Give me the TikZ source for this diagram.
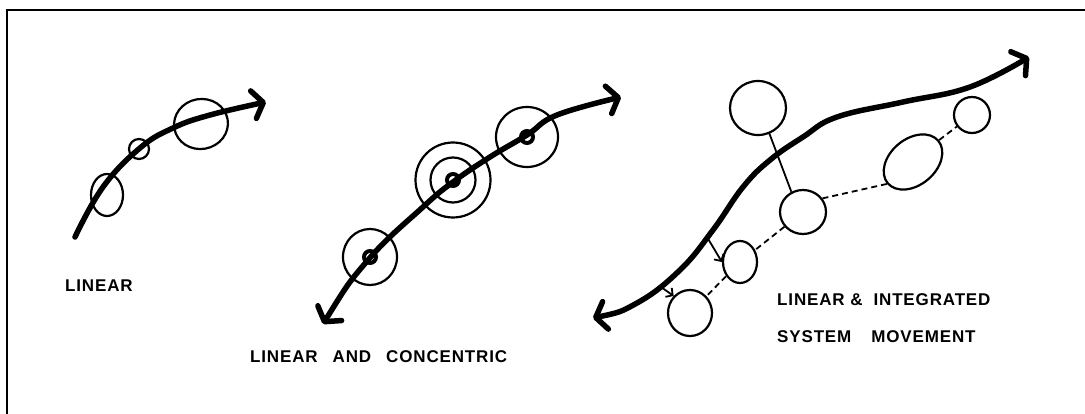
\documentclass[tikz,border=0pt]{standalone}
\usepackage{fontspec}
\setmainfont{Liberation Sans}
\newfontfamily\capfont[LetterSpace=5]{Liberation Sans Bold}
\usetikzlibrary{arrows.meta, shapes.geometric}

\begin{document}
\begin{tikzpicture}[x=1pt, y=-1pt, >={Straight Barb[length=10pt, width=28pt, round]},
    spine/.style={line width=5.5pt, line cap=round, line join=round},
    blob/.style={draw, ellipse, line width=2.2pt, inner sep=0pt},
    core/.style={draw, circle, line width=4pt, minimum size=12pt, inner sep=0pt},
    tie/.style={line width=1.8pt},
    dashtie/.style={tie, dash pattern=on 6pt off 4pt},
    caption/.style={anchor=west, inner sep=0pt, font=\fontsize{17}{19}\capfont}]
    \useasboundingbox (0,0) rectangle (1085,414);
    \fill[white] (0,0) rectangle (1085,414);

    % Frame
    \draw[line width=2.5pt] (7,414) -- (7,10) -- (1085,10);

    % Linear
    \coordinate (linStart) at (75,237);
    \coordinate (linEnd) at (266,102);
    \draw[spine, ->] plot[smooth, tension=0.7] coordinates {(linStart) (103,187) (140,148) (173,128) (210,115) (linEnd)};
    \node[blob, minimum width=32pt, minimum height=42pt] (linA) at (107,195) {};
    \node[blob, minimum size=20pt] (linB) at (139,149) {};
    \node[blob, minimum width=54pt, minimum height=50pt, rotate=10] (linC) at (201,124) {};
    \node[caption] (capLin) at (65,286) {LINEAR};

    % Linear and concentric
    \coordinate (conStart) at (323,324);
    \coordinate (conEnd) at (621,97);
    \draw[spine, <->] plot[smooth, tension=0.7] coordinates {(conStart) (368,260) (423,207) (453,182) (490,157) (527,135) (557,115) (conEnd)};
    \node[blob, minimum width=54pt, minimum height=56pt] (conA) at (370,257) {};
    \node[blob, minimum size=75pt] (conB) at (453,180) {};
    \node[blob, minimum size=45pt] (conBmid) at (conB) {};
    \node[blob, minimum width=62pt, minimum height=60pt] (conC) at (527,137) {};
    \foreach \c in {conA, conB, conC}
      \node[core] (\c core) at (\c) {};
    \node[caption] (capCon) at (250,357) {LINEAR\hspace{15pt}AND\hspace{15pt}CONCENTRIC};

    % Linear & integrated
    \coordinate (intStart) at (593,318);
    \coordinate (intEnd) at (1029,57);
    \draw[spine, <->] plot[smooth, tension=0.7] coordinates {(intStart) (637,303) (680,270) (713,230) (743,187) (770,160) (803,137) (837,117) (903,102) (970,87) (intEnd)};
    \node[blob, minimum width=56pt, minimum height=54pt] (intTop) at (758,108) {};
    \node[blob, minimum width=46pt, minimum height=44pt] (intB) at (803,212) {};
    \node[blob, minimum width=66pt, minimum height=46pt, rotate=40] (intC) at (913,162) {};
    \node[blob, minimum size=36pt] (intD) at (972,115) {};
    \node[blob, minimum width=34pt, minimum height=42pt] (intE) at (740,262) {};
    \node[blob, minimum width=44pt, minimum height=46pt] (intF) at (690,313) {};
    \draw[tie] (intTop.-66) -- (intB.120);
    \draw[dashtie] (intB.35) -- (intC.west);
    \draw[dashtie] (intC.east) -- (intD);
    \draw[dashtie] (intB) -- (intE);
    \draw[dashtie] (intE) -- (intF);
    \coordinate (hookE) at (707,237);
    \coordinate (hookF) at (661,287);
    \draw[tie, -{Straight Barb[length=5pt, width=11pt]}] (hookE) -- (intE.west);
    \draw[tie, -{Straight Barb[length=5pt, width=11pt]}] (hookF) -- (intF.north west);
    \node[caption] (capInt) at (777,300) {LINEAR \&\hspace{11pt}INTEGRATED};
    \node[caption] (capSys) at (777,337) {SYSTEM\hspace{20pt}MOVEMENT};
\end{tikzpicture}
\end{document}
